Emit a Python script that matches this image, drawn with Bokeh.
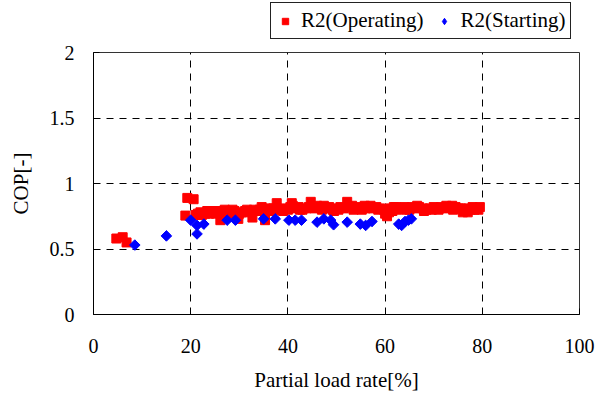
import math
from bokeh.plotting import figure
from bokeh.models import Legend, LegendItem, Range1d, FixedTicker
from bokeh.layouts import column
from bokeh.embed import file_html
from bokeh.resources import INLINE

# Operating (red squares)
op_x = [4.7, 6.0, 6.8, 19.3, 20.6, 18.9,
        21.5, 22.3, 23.0, 23.8, 24.5, 25.2, 26.0, 26.1, 26.8, 27.5, 28.2, 29.0, 29.8, 30.5,
        31.2, 32.0, 32.7, 33.4, 34.2, 35.0, 35.3, 35.8, 36.5, 37.2, 37.7, 38.5, 39.2, 40.0,
        40.5, 40.8, 41.5, 42.2, 43.0, 43.8, 44.7, 45.5, 46.2, 47.0, 47.8, 48.5, 49.2, 50.0,
        50.8, 51.5, 52.2, 53.0, 53.8, 54.5, 55.2, 56.0, 56.8, 57.5, 58.2, 59.0, 59.8, 60.4,
        61.0, 61.8, 62.5, 63.2, 64.0, 64.8, 65.5, 66.2, 67.0, 67.8, 68.5, 69.2, 70.0, 70.8,
        71.5, 72.2, 73.0, 73.8, 74.5, 75.2, 76.0, 76.5, 77.2, 78.0, 78.8, 79.5,
        24.0, 27.0, 30.0, 33.0, 36.0, 39.0, 42.5, 46.0, 49.5, 53.5, 57.0, 61.5, 65.0, 68.0,
        71.0, 74.0, 77.5, 79.2,
        22.0, 25.5, 28.6, 31.6, 34.6, 37.0, 41.0, 44.3, 47.4, 50.4, 53.2, 55.8, 58.6, 62.2,
        64.4, 66.6, 69.6, 72.6, 75.6, 78.4, 21.0, 23.4, 60.0, 60.8, 76.2, 77.0]
op_y = [0.58, 0.59, 0.55, 0.89, 0.88, 0.755,
        0.77, 0.76, 0.77, 0.77, 0.78, 0.77, 0.78, 0.72, 0.76, 0.78, 0.77, 0.79, 0.73, 0.78,
        0.79, 0.78, 0.74, 0.79, 0.80, 0.79, 0.72, 0.80, 0.79, 0.80, 0.85, 0.80, 0.81, 0.80,
        0.82, 0.85, 0.81, 0.82, 0.80, 0.81, 0.86, 0.81, 0.82, 0.80, 0.81, 0.82, 0.80, 0.81,
        0.82, 0.81, 0.86, 0.82, 0.81, 0.82, 0.80, 0.81, 0.82, 0.81, 0.82, 0.81, 0.80, 0.75,
        0.81, 0.82, 0.80, 0.81, 0.82, 0.81, 0.82, 0.81, 0.82, 0.81, 0.80, 0.81, 0.82, 0.81,
        0.82, 0.81, 0.82, 0.83, 0.82, 0.81, 0.78, 0.79, 0.81, 0.82, 0.81, 0.82,
        0.79, 0.80, 0.77, 0.80, 0.81, 0.79, 0.80, 0.83, 0.79, 0.80, 0.83, 0.79, 0.80, 0.79,
        0.80, 0.80, 0.80, 0.80,
        0.78, 0.79, 0.80, 0.80, 0.82, 0.81, 0.83, 0.82, 0.83, 0.80, 0.83, 0.83, 0.80, 0.82,
        0.80, 0.83, 0.80, 0.83, 0.81, 0.80, 0.76, 0.79, 0.77, 0.78, 0.79, 0.78]

# Starting (blue diamonds)
st_x = [8.5, 15.0, 20.0, 21.3, 22.7, 21.3, 27.5, 29.2, 35.0, 37.4, 40.2, 41.5, 42.8,
        46.0, 47.4, 48.8, 49.4, 52.2, 54.9, 56.0, 57.3, 62.8, 63.4, 64.1, 64.8, 65.4]
st_y = [0.53, 0.60, 0.72, 0.68, 0.69, 0.615, 0.72, 0.72, 0.73, 0.73, 0.72, 0.72, 0.72,
        0.705, 0.73, 0.72, 0.685, 0.705, 0.69, 0.68, 0.71, 0.69, 0.68, 0.71, 0.72, 0.73]

x_ticks = [0, 20, 40, 60, 80, 100]
y_ticks = [0, 0.5, 1, 1.5, 2]
series_names = ["R2(Operating)", "R2(Starting)"]

FONT = "Liberation Serif"
RED = "#ff0000"
BLUE = "#0000ff"

p = figure(width=613, height=361, output_backend="svg", toolbar_location=None,
           x_range=Range1d(0, 100), y_range=Range1d(0, 2),
           min_border_left=93, min_border_right=34, min_border_top=12, min_border_bottom=87)
p.title.visible = False
p.background_fill_color = "white"
p.border_fill_color = "white"
p.outline_line_color = "#333333"
p.outline_line_width = 1
p.outline_line_alpha = 1

p.scatter(op_x, op_y, marker="square", size=9, color=RED, line_color=RED)
p.scatter(st_x, st_y, marker="square", size=7.5, angle=math.pi / 4,
          color=BLUE, line_color=BLUE)

for ax in (p.xaxis[0], p.yaxis[0]):
    ax.axis_line_color = "black"
    ax.major_tick_line_color = "black"
    ax.major_tick_in = 6
    ax.major_tick_out = 0
    ax.minor_tick_line_color = None
    ax.major_label_text_font = FONT
    ax.major_label_text_font_size = "20px"
    ax.major_label_text_color = "black"
    ax.axis_label_text_font = FONT
    ax.axis_label_text_font_size = "21px"
    ax.axis_label_text_font_style = "normal"
    ax.axis_label_text_color = "black"

p.xaxis.ticker = FixedTicker(ticks=x_ticks)
p.yaxis.ticker = FixedTicker(ticks=y_ticks)
p.xaxis.axis_label = "Partial load rate[%]"
p.yaxis.axis_label = "COP[-]"
p.xaxis.major_label_standoff = 24
p.xaxis.axis_label_standoff = 12
p.yaxis.major_label_standoff = 19
p.yaxis.axis_label_standoff = 14

p.xgrid.ticker = FixedTicker(ticks=[20, 40, 60, 80])
p.ygrid.ticker = FixedTicker(ticks=[0.5, 1, 1.5])
for g in (p.xgrid[0], p.ygrid[0]):
    g.grid_line_color = "black"
    g.grid_line_dash = "7 6"
    g.grid_line_width = 1

# Legend strip above the plot (its ranges show none of the data; only the legend is seen)
lf = figure(width=613, height=40, output_backend="svg", toolbar_location=None,
            x_range=Range1d(0, 1), y_range=Range1d(5, 6),
            x_axis_location=None, y_axis_location=None,
            min_border_left=0, min_border_right=0, min_border_top=0, min_border_bottom=0)
lf.title.visible = False
lf.outline_line_color = None
lf.xgrid.visible = False
lf.ygrid.visible = False
lr_op = lf.scatter(op_x, op_y, marker="square", size=9, color=RED, line_color=RED)
lr_st = lf.scatter(st_x, st_y, marker="diamond", size=11, color=BLUE, line_color=BLUE)

legend = Legend(items=[LegendItem(label=series_names[0], renderers=[lr_op]),
                       LegendItem(label=series_names[1], renderers=[lr_st])],
                orientation="horizontal", location=(177, 1))
legend.label_text_font = FONT
legend.label_text_font_size = "21px"
legend.label_text_color = "black"
legend.border_line_color = "#222222"
legend.border_line_alpha = 1
legend.border_line_width = 1
legend.background_fill_color = "white"
legend.background_fill_alpha = 1
legend.padding = 5
legend.margin = 0
legend.spacing = 12
legend.glyph_width = 18
legend.glyph_height = 16
legend.label_height = 20
legend.label_standoff = 7
lf.add_layout(legend, "center")

layout = column(lf, p, spacing=0)
open("out.html", "w").write(file_html(layout, INLINE))
